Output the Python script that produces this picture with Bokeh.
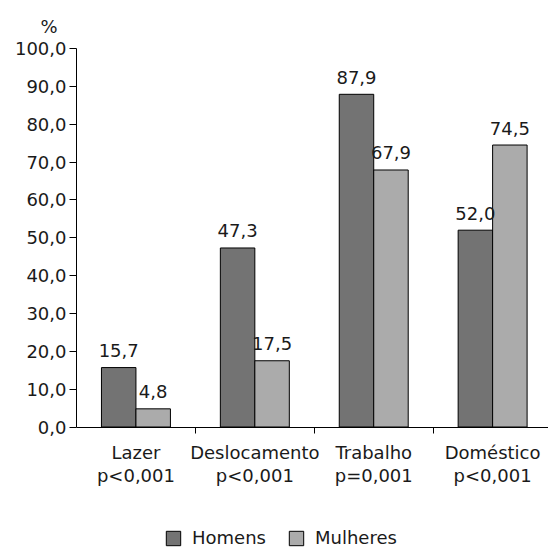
from bokeh.plotting import figure
from bokeh.models import (Range1d, FixedTicker, LinearAxis, Legend, LegendItem,
                          ColumnDataSource)
from bokeh.core.properties import value
from bokeh.embed import file_html
from bokeh.resources import INLINE

categories = ["Lazer", "Deslocamento", "Trabalho", "Doméstico"]
pvalues = ["p<0,001", "p<0,001", "p=0,001", "p<0,001"]
homens = [15.7, 47.3, 87.9, 52.0]
mulheres = [4.8, 17.5, 67.9, 74.5]
yticks = [0, 10, 20, 30, 40, 50, 60, 70, 80, 90, 100]
unit_label = "%"

FONT = "DejaVu Sans"
FS = "18px"
DARK = "#737373"
LIGHT = "#ababab"
TXT = "#1a1a1a"

p = figure(width=548, height=548, output_backend="svg", toolbar_location=None,
           x_range=Range1d(0, 3.97), y_range=Range1d(-32.1, 100),
           min_border_left=76, min_border_right=0, min_border_top=48,
           min_border_bottom=0)
p.xaxis.visible = False
p.yaxis.visible = False
p.grid.visible = False
p.outline_line_color = None
p.background_fill_color = "white"

p.title.text = unit_label
p.title.align = "left"
p.title.offset = -36
p.title.standoff = 24
p.title.text_font = FONT
p.title.text_font_size = FS
p.title.text_font_style = "normal"
p.title.text_color = TXT

centers = [i + 0.5 for i in range(len(categories))]
bw = 0.29
xh = [c - bw / 2 for c in centers]
xm = [c + bw / 2 for c in centers]

src_h = ColumnDataSource(dict(x=xh, top=homens,
                              lab=[f"{v:.1f}".replace(".", ",") for v in homens]))
src_m = ColumnDataSource(dict(x=xm, top=mulheres,
                              lab=[f"{v:.1f}".replace(".", ",") for v in mulheres]))

rh = p.vbar(x="x", top="top", bottom=0, width=bw, source=src_h, fill_color=DARK,
            line_color="black", line_width=1)
rm = p.vbar(x="x", top="top", bottom=0, width=bw, source=src_m, fill_color=LIGHT,
            line_color="black", line_width=1)

for s in (src_h, src_m):
    p.text(x="x", y="top", text="lab", source=s, text_align="center",
           text_baseline="alphabetic", y_offset=-17, text_font=value(FONT),
           text_font_size=FS, text_color=TXT)

# y axis
ya = LinearAxis(ticker=FixedTicker(ticks=yticks, minor_ticks=[]), bounds=(0, 100))
ya.major_label_overrides = {t: f"{t:.1f}".replace(".", ",") for t in yticks}
ya.major_tick_out = 7
ya.major_tick_in = 0
ya.major_label_standoff = 3
ya.major_label_text_font = FONT
ya.major_label_text_font_size = FS
ya.major_label_text_color = TXT
ya.axis_line_color = "black"
ya.major_tick_line_color = "black"
p.add_layout(ya, "left")

# x axis: category names (fixed at y = 0)
xa = LinearAxis(ticker=FixedTicker(ticks=centers, minor_ticks=[1, 2, 3]),
                fixed_location=0)
xa.major_label_overrides = {c: n for c, n in zip(centers, categories)}
xa.major_tick_line_color = None
xa.major_tick_out = 0
xa.major_tick_in = 0
xa.minor_tick_out = 6
xa.minor_tick_in = 0
xa.minor_tick_line_color = "black"
xa.major_label_standoff = 9
xa.major_label_text_font = FONT
xa.major_label_text_font_size = FS
xa.major_label_text_color = TXT
xa.axis_line_color = "black"
p.add_layout(xa, "below")

# x axis: p-values (second line of the category labels)
xa2 = LinearAxis(ticker=FixedTicker(ticks=centers, minor_ticks=[]),
                 fixed_location=0)
xa2.major_label_overrides = {c: n for c, n in zip(centers, pvalues)}
xa2.axis_line_color = None
xa2.major_tick_line_color = None
xa2.major_tick_out = 0
xa2.major_tick_in = 0
xa2.major_label_standoff = 38
xa2.major_label_text_font = FONT
xa2.major_label_text_font_size = FS
xa2.major_label_text_color = TXT
p.add_layout(xa2, "below")

legend = Legend(items=[LegendItem(label="Homens", renderers=[rh]),
                       LegendItem(label="Mulheres", renderers=[rm])],
                orientation="horizontal", location=(88, 0),
                glyph_width=18, glyph_height=18, label_standoff=10, spacing=21,
                padding=0, margin=0, border_line_color=None,
                background_fill_alpha=0, label_text_font=FONT,
                label_text_font_size=FS, label_text_color=TXT)
p.add_layout(legend, "center")

open("out.html", "w").write(file_html(p, INLINE))
